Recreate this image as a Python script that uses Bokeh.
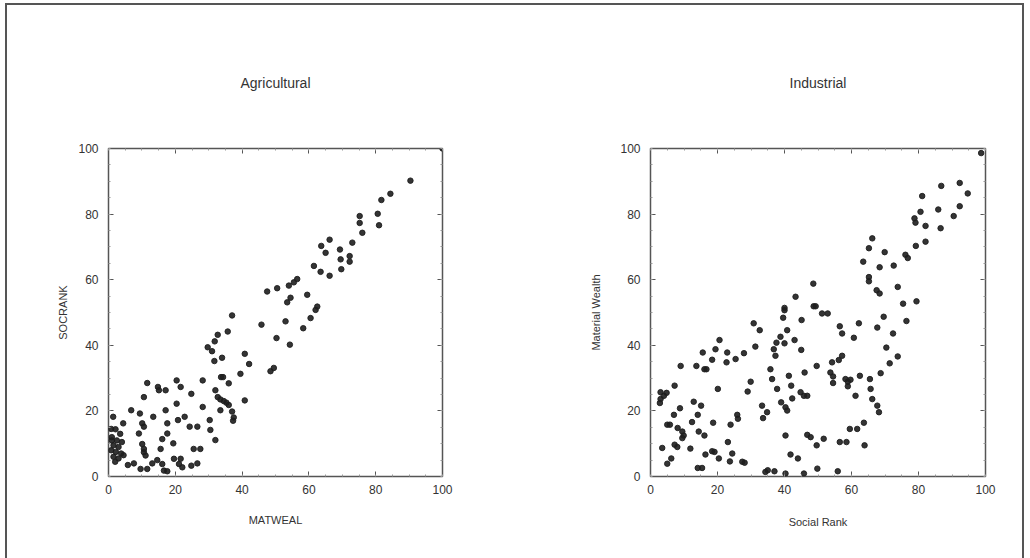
from bokeh.plotting import figure
from bokeh.layouts import row
from bokeh.models import Range1d, LinearAxis, FixedTicker
from bokeh.embed import file_html
from bokeh.resources import INLINE

# ---------------- Agricultural: MATWEAL (x) vs SOCRANK (y) ----------------
agr_matweal = [100, 90.4, 84.4, 81.7, 80.6, 81.0, 75.2, 75.2, 76.0, 73.0, 66.2, 63.7, 65.0, 69.3,
               69.5, 72.2, 72.2, 69.7, 61.5, 63.5, 66.2, 56.5, 55.5, 54.0, 50.5, 47.5, 54.5, 53.5,
               59.5, 62.5, 62.0, 60.5, 58.3, 53.0, 50.3, 54.3, 49.5, 48.5, 45.8, 37.0, 35.7, 32.7,
               31.8, 29.7, 31.0, 40.8, 42.1, 31.7, 34.0, 39.5, 33.7, 34.3, 36.0, 28.2, 20.4, 21.6,
               11.6, 14.8, 15.1, 17.1, 10.6, 24.8, 32.0, 32.7, 33.5, 34.5, 35.3, 36.0, 37.0, 37.5,
               37.3, 40.8, 33.5, 28.2, 20.4, 17.1, 6.8, 9.4, 13.4, 20.8, 22.8, 17.6, 10.1, 10.6,
               4.4, 1.4, 24.3, 26.6, 30.3, 30.5, 17.6, 9.1, 16.1, 19.4, 32.0, 25.5, 27.5, 15.6,
               10.1, 10.6, 10.6, 11.1,
               0.8, 2.1, 3.5, 1.0, 2.5, 4.0, 1.5, 3.0, 0.8, 2.2, 3.8, 1.5, 3.0, 4.5, 2.0, 1.0,
               5.8, 7.6, 9.6, 11.6, 13.1, 14.6, 16.1, 16.6, 17.6, 19.6, 21.6, 21.1, 22.1, 24.8, 26.6]
agr_socrank = [100, 90.2, 86.2, 84.3, 80.1, 76.6, 79.4, 77.3, 74.3, 71.3, 72.2, 70.3, 68.2, 69.2,
               66.2, 67.2, 65.5, 63.2, 64.2, 62.4, 61.2, 60.2, 59.2, 58.2, 57.4, 56.4, 54.5, 53.1,
               55.4, 51.8, 50.8, 48.3, 45.2, 47.3, 42.2, 40.2, 33.1, 32.1, 46.3, 49.1, 44.2, 43.2,
               41.2, 39.4, 38.2, 37.4, 34.3, 35.2, 36.2, 31.3, 30.3, 30.3, 28.4, 29.3, 29.3, 27.3,
               28.5, 27.3, 26.3, 26.3, 24.2, 25.2, 26.3, 24.2, 23.5, 23.0, 22.5, 21.8, 19.8, 18.0,
               17.0, 23.2, 20.2, 21.2, 22.2, 20.2, 20.2, 19.2, 18.2, 17.2, 18.2, 16.2, 16.2, 15.2,
               16.2, 18.2, 15.2, 15.2, 17.2, 14.2, 13.1, 13.1, 11.4, 10.1, 11.1, 8.4, 8.4, 8.4,
               9.9, 8.4, 7.4, 6.4,
               14.5, 14.4, 13.0, 12.0, 11.0, 10.5, 9.5, 9.0, 8.0, 7.5, 7.0, 6.0, 5.5, 6.5, 4.5, 11.0,
               3.5, 4.0, 2.3, 2.3, 4.0, 5.0, 3.8, 1.8, 1.6, 5.4, 5.4, 3.8, 2.8, 3.3, 4.0]

# ---------------- Industrial: Social Rank (x) vs Material Wealth (y) ----------------
ind_social = [48.6, 43.3, 48.7, 40.0, 40.0, 39.6, 49.3, 45.1, 30.8, 32.6, 40.8, 38.8, 37.6, 40.0,
              43.0, 36.8, 37.3, 45.0, 31.3, 20.6, 15.6, 19.4, 22.9, 27.9, 18.4, 22.7, 25.4, 9.0,
              13.7, 16.1, 16.7, 35.8, 49.6, 46.0, 41.3, 29.9, 29.0, 36.3, 42.0, 37.8, 44.8, 45.8,
              46.8, 42.3, 39.0, 40.3, 40.8, 20.1, 7.2, 3.0, 3.0, 4.0, 4.8, 2.8, 12.9, 15.1, 8.8,
              7.0, 14.1, 33.3, 34.8, 33.6, 25.9, 26.1, 12.4, 18.7, 23.9, 5.0, 5.8, 8.1, 9.5, 9.9,
              9.5, 14.4, 16.1, 7.2, 8.0, 3.5, 11.9, 23.1, 18.4, 19.1, 20.4, 16.4, 24.4, 23.7, 27.4,
              28.1, 6.2, 5.0, 14.1, 15.4, 40.3, 46.8, 47.8, 49.6, 41.8, 44.0, 34.3, 35.0, 37.0,
              40.3, 45.8, 49.8,
              98.7, 92.3, 94.7, 86.8, 81.1, 85.9, 92.3, 90.5, 80.6, 78.8, 79.1, 82.1, 86.6, 82.1,
              79.2, 76.1, 76.8, 72.6, 69.9, 66.2, 65.2, 63.5, 68.4, 65.2, 65.2, 67.5, 68.4, 73.8,
              75.4, 79.4,
              51.2, 52.9, 56.5, 57.2, 62.2, 60.7, 67.7, 69.6, 72.4, 76.4, 70.4, 73.8, 71.4, 68.7,
              54.2, 56.2, 57.2, 53.7, 54.5, 54.5, 58.2, 58.9, 58.9, 59.7, 62.5, 65.5, 65.7, 66.2,
              67.7, 68.2, 61.2, 63.7, 61.7, 59.5, 56.5, 58.5, 63.9, 51.7, 55.9]
ind_material = [58.8, 54.8, 51.9, 51.4, 50.7, 48.4, 51.9, 47.7, 46.7, 44.6, 44.6, 42.6, 40.8, 40.6,
                41.6, 38.8, 36.8, 38.6, 39.6, 41.6, 37.8, 38.8, 37.8, 37.6, 35.6, 34.8, 35.8, 33.7,
                33.7, 32.7, 32.7, 32.7, 33.7, 31.7, 30.7, 28.9, 25.9, 29.7, 27.7, 26.7, 25.7, 24.6,
                24.6, 23.8, 22.6, 21.1, 20.1, 26.7, 27.7, 25.7, 23.6, 24.6, 25.5, 22.4, 22.8, 21.6, 20.8,
                18.8, 18.8, 21.6, 19.6, 17.8, 18.8, 17.6, 16.6, 16.4, 15.8, 15.8, 15.8, 14.8, 13.7, 12.5,
                11.7, 13.7, 12.5, 9.7, 9.0, 8.7, 8.5, 10.5, 7.7, 7.5, 5.5, 6.7, 7.0, 4.6, 4.5,
                4.2, 5.5, 3.9, 2.6, 2.6, 12.5, 12.7, 12.0, 9.5, 6.7, 5.5, 1.4, 1.9, 1.6,
                0.9, 0.9, 2.4,
                98.6, 89.5, 86.3, 88.6, 85.5, 81.4, 82.4, 79.4, 80.7, 78.7, 77.4, 76.4, 75.7, 71.6,
                70.3, 67.6, 66.6, 64.3, 68.4, 72.6, 69.6, 65.5, 63.8, 60.8, 59.5, 56.8, 55.8, 57.8,
                52.7, 53.4,
                49.7, 49.7, 45.8, 43.6, 46.7, 42.3, 45.4, 48.7, 43.6, 47.4, 39.3, 36.6, 34.5, 31.5,
                34.8, 35.5, 36.8, 31.7, 30.5, 28.5, 29.7, 28.9, 27.5, 29.5, 30.7, 29.7, 26.7, 23.6,
                21.6, 19.6, 24.6, 16.4, 14.5, 14.5, 10.5, 10.5, 9.5, 11.5, 1.6]

ticks = [0, 20, 40, 60, 80, 100]
FONT = "Liberation Sans"
INK = "#333333"


def style_ticks(ax):
    ax.ticker = FixedTicker(ticks=ticks, minor_ticks=list(range(0, 101, 5)))
    ax.major_tick_in = 5
    ax.major_tick_out = 0
    ax.minor_tick_in = 2
    ax.minor_tick_out = 0
    ax.axis_line_color = None
    ax.major_tick_line_color = "#555555"
    ax.minor_tick_line_color = "#999999"


def make_panel(xs, ys, title, xlabel, ylabel, w, h, b_left, b_right, b_top, b_bottom,
               ylab_standoff, xlab_standoff):
    p = figure(width=w, height=h, x_range=Range1d(0, 100), y_range=Range1d(0, 100),
               output_backend="svg", toolbar_location=None,
               min_border_left=b_left, min_border_right=b_right,
               min_border_top=b_top, min_border_bottom=b_bottom)
    p.grid.visible = False
    p.outline_line_color = "#555555"
    p.outline_line_width = 1.5
    p.background_fill_color = "white"
    p.border_fill_color = "white"

    p.title.text = title
    p.title.align = "center"
    p.title.text_font = FONT
    p.title.text_font_size = "14px"
    p.title.text_font_style = "normal"
    p.title.text_color = INK
    p.title.standoff = 115

    for ax in (p.xaxis[0], p.yaxis[0]):
        style_ticks(ax)
        ax.major_label_text_font = FONT
        ax.major_label_text_font_size = "12px"
        ax.major_label_text_color = INK
        ax.axis_label_text_font = FONT
        ax.axis_label_text_font_size = "11px"
        ax.axis_label_text_font_style = "normal"
        ax.axis_label_text_color = INK
    p.xaxis.axis_label = xlabel
    p.yaxis.axis_label = ylabel
    p.xaxis.major_label_standoff = 8
    p.yaxis.major_label_standoff = 10
    p.xaxis.axis_label_standoff = xlab_standoff
    p.yaxis.axis_label_standoff = ylab_standoff

    for side in ("above", "right"):
        ax = LinearAxis()
        style_ticks(ax)
        ax.major_label_overrides = {t: "" for t in ticks}
        ax.major_label_standoff = 0
        p.add_layout(ax, side)

    p.scatter(xs, ys, size=5.5, marker="circle", fill_color="#1e1e1e",
              line_color="#1e1e1e", alpha=0.9)
    return p


H = 553
p1 = make_panel(agr_matweal, agr_socrank, "Agricultural", "MATWEAL", "SOCRANK",
                508, H, 101, 73, 141, 82, 6, 17)
p2 = make_panel(ind_social, ind_material, "Industrial", "Social Rank", "Material Wealth",
                507, H, 135, 37, 143, 80, 15, 19)

layout = row(p1, p2, styles={"border-top": "2px solid #555555",
                             "border-left": "2px solid #555555",
                             "border-right": "2px solid #555555",
                             "margin-left": "5px", "margin-top": "3px"})

open("out.html", "w").write(file_html(layout, INLINE))
